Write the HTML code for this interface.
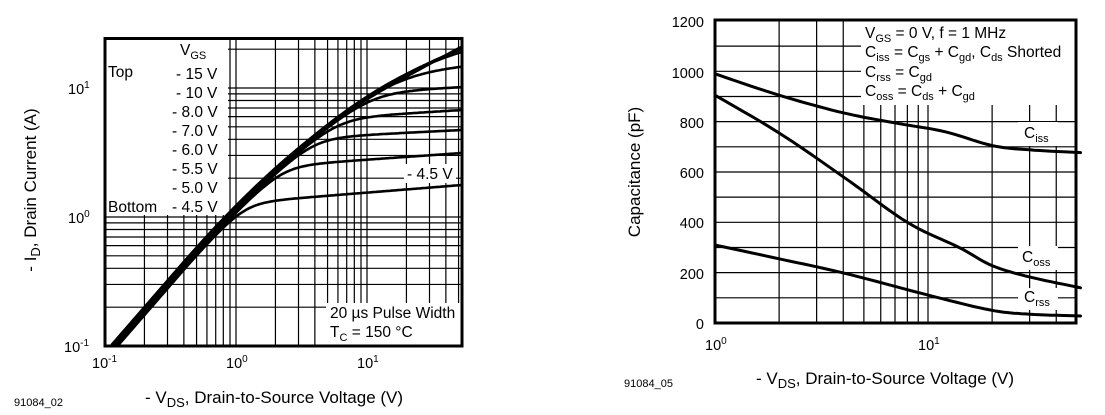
<!DOCTYPE html>
<html><head><meta charset="utf-8"><style>
html,body{margin:0;padding:0;background:#fff;}
svg{display:block;font-family:"Liberation Sans",Arial,sans-serif;}
</style></head><body>
<svg id="s" width="1105" height="415" viewBox="0 0 1105 415" xmlns="http://www.w3.org/2000/svg">
<g id="grid" stroke="#000" stroke-width="1.2" fill="none"></g>
<rect x="106" y="39" width="122" height="176" fill="#fff"/>
<rect x="326" y="303" width="135" height="42" fill="#fff"/>
<rect x="404" y="164" width="52" height="19" fill="#fff"/>
<rect x="861" y="20" width="214" height="85" fill="#fff"/>
<rect x="1018" y="122" width="40" height="24" fill="#fff"/>
<rect x="1018" y="246" width="40" height="24" fill="#fff"/>
<rect x="1018" y="288" width="40" height="22" fill="#fff"/>
<g id="curves" stroke="#000" fill="none" stroke-linecap="round"></g>
<rect x="105" y="38.5" width="357" height="307.5" fill="none" stroke="#000" stroke-width="3"/>
<rect x="715" y="20" width="361" height="303" fill="none" stroke="#000" stroke-width="3"/>
<g font-size="15.5" fill="#000">
<text x="180" y="55">V<tspan font-size="11" dy="4">GS</tspan></text>
<text x="108" y="77">Top</text>
<text x="176" y="79">- 15 V</text>
<text x="176" y="98">- 10 V</text>
<text x="172" y="117">- 8.0 V</text>
<text x="172" y="136">- 7.0 V</text>
<text x="172" y="155">- 6.0 V</text>
<text x="172" y="174">- 5.5 V</text>
<text x="172" y="193">- 5.0 V</text>
<text x="108" y="212">Bottom</text>
<text x="172" y="212">- 4.5 V</text>
<text x="407" y="179">- 4.5 V</text>
<text x="330" y="318">20 µs Pulse Width</text>
<text x="330" y="337">T<tspan font-size="11" dy="4">C</tspan><tspan dy="-4"> = 150 °C</tspan></text>
</g>
<g font-size="14.5" fill="#000">
<text x="68" y="94">10<tspan font-size="10" dy="-6">1</tspan></text>
<text x="68" y="223">10<tspan font-size="10" dy="-6">0</tspan></text>
<text x="64" y="352">10<tspan font-size="10" dy="-6">-1</tspan></text>
<text x="92" y="368">10<tspan font-size="10" dy="-6">-1</tspan></text>
<text x="226" y="368">10<tspan font-size="10" dy="-6">0</tspan></text>
<text x="357" y="368">10<tspan font-size="10" dy="-6">1</tspan></text>
<g text-anchor="end">
<text x="704" y="27">1200</text><text x="704" y="78">1000</text><text x="704" y="128">800</text>
<text x="704" y="178">600</text><text x="704" y="228">400</text><text x="704" y="279">200</text><text x="704" y="329">0</text>
</g>
<text x="705" y="350">10<tspan font-size="10" dy="-6">0</tspan></text>
<text x="918" y="350">10<tspan font-size="10" dy="-6">1</tspan></text>
</g>
<g font-size="15.5" fill="#000">
<text x="865" y="38">V<tspan font-size="11" dy="4">GS</tspan><tspan dy="-4"> = 0 V, f = 1 MHz</tspan></text>
<text x="865" y="57">C<tspan font-size="11" dy="4">iss</tspan><tspan dy="-4"> = C</tspan><tspan font-size="11" dy="4">gs</tspan><tspan dy="-4"> + C</tspan><tspan font-size="11" dy="4">gd</tspan><tspan dy="-4">, C</tspan><tspan font-size="11" dy="4">ds</tspan><tspan dy="-4"> Shorted</tspan></text>
<text x="865" y="77">C<tspan font-size="11" dy="4">rss</tspan><tspan dy="-4"> = C</tspan><tspan font-size="11" dy="4">gd</tspan></text>
<text x="865" y="96">C<tspan font-size="11" dy="4">oss</tspan><tspan dy="-4"> = C</tspan><tspan font-size="11" dy="4">ds</tspan><tspan dy="-4"> + C</tspan><tspan font-size="11" dy="4">gd</tspan></text>
<text x="1024" y="138">C<tspan font-size="11" dy="4">iss</tspan></text>
<text x="1022" y="262">C<tspan font-size="11" dy="4">oss</tspan></text>
<text x="1024" y="302">C<tspan font-size="11" dy="4">rss</tspan></text>
</g>
<text x="14" y="406" font-size="11">91084_02</text>
<text x="624" y="387" font-size="11">91084_05</text>
<g font-size="17" fill="#000">
<text x="145" y="403">- V<tspan font-size="13" dy="4">DS</tspan><tspan dy="-4">, Drain-to-Source Voltage (V)</tspan></text>
<text transform="translate(36,190) rotate(-90)" text-anchor="middle">- I<tspan font-size="13" dy="4">D</tspan><tspan dy="-4">, Drain Current (A)</tspan></text>
<text x="756" y="384">- V<tspan font-size="13" dy="4">DS</tspan><tspan dy="-4">, Drain-to-Source Voltage (V)</tspan></text>
<text transform="translate(640,172) rotate(-90)" text-anchor="middle">Capacitance (pF)</text>
</g>
</svg>
<script>
(function(){
var NS="http://www.w3.org/2000/svg",g=document.getElementById('grid'),c=document.getElementById('curves');
function L(x1,y1,x2,y2){var l=document.createElementNS(NS,'line');l.setAttribute('x1',x1);l.setAttribute('y1',y1);l.setAttribute('x2',x2);l.setAttribute('y2',y2);g.appendChild(l);}
for(var d=0;d<3;d++)for(var m=1;m<10;m++){var x=105+131*(d+Math.log10(m));if(x>105&&x<462)L(x,38,x,346);}
for(var d=0;d<3;d++)for(var m=1;m<10;m++){var y=346-129*(d+Math.log10(m));if(y>38&&y<346)L(105,y,462,y);}
for(var d=0;d<2;d++)for(var m=1;m<10;m++){var x=715+213*(d+Math.log10(m));if(x>715&&x<1076)L(x,20,x,323);}
for(var v=100;v<1200;v+=100){var y=323-v*0.2517;L(715,y,1076,y);}
function P(d,w){var p=document.createElementNS(NS,'path');p.setAttribute('d',d);p.setAttribute('stroke-width',w);c.appendChild(p);}
function ylin(x){var y=349,s;for(var t=108;t<x;t+=1){s=1.15-0.55*Math.max(0,Math.min(1,(t-180)/220));y-=s;}return y;}
var sats=[[185,0.08],[153,0.07],[130,0.05],[110,0.06],[87,0.05],[66,0.1],[49,0.2],[45,0.3],[42,0.5]];
sats.forEach(function(s,i){var off=(8-i)*1.0,d='',k=0.1;
 for(var x=108;x<=462;x+=2){var Ll=346-(ylin(x)+off),Ls=346-(s[0]+(462-x)*s[1]);
  var Lm=-Math.log(Math.exp(-k*Ll)+Math.exp(-k*Ls))/k;var y=346-Lm;if(y>346)continue;d+=(d?'L':'M')+x+','+y.toFixed(1);}
 P(d,2.6);});
function rp(pts){var d='';pts.forEach(function(p,i){var x=715+213*Math.log10(p[0]),y=323-p[1]*0.2517;d+=(i?' ':'M')+x.toFixed(1)+','+y.toFixed(1);});return d;}
function smooth(pts){var q=pts.map(function(p){return [Math.log10(p[0]),p[1]];}),r=[];
 for(var i=0;i<q.length-1;i++){var p0=q[Math.max(0,i-1)],p1=q[i],p2=q[i+1],p3=q[Math.min(q.length-1,i+2)];
  for(var t=0;t<1;t+=0.1){var t2=t*t,t3=t2*t;
   var x=0.5*((2*p1[0])+(-p0[0]+p2[0])*t+(2*p0[0]-5*p1[0]+4*p2[0]-p3[0])*t2+(-p0[0]+3*p1[0]-3*p2[0]+p3[0])*t3);
   var y=0.5*((2*p1[1])+(-p0[1]+p2[1])*t+(2*p0[1]-5*p1[1]+4*p2[1]-p3[1])*t2+(-p0[1]+3*p1[1]-3*p2[1]+p3[1])*t3);
   r.push([Math.pow(10,x),y]);}}
 r.push(pts[pts.length-1]);return r;}
P(rp(smooth([[1,990],[2,905],[4,835],[7,795],[12,760],[20,705],[30,688],[52,677]])),3);
P(rp(smooth([[1,905],[2,755],[4,581],[8,400],[14,300],[20,228],[30,183],[52,140]])),3);
P(rp(smooth([[1,310],[2,255],[4,199],[10,111],[19.5,52],[30,35],[52,28]])),3);
})();
</script>
</body></html>
